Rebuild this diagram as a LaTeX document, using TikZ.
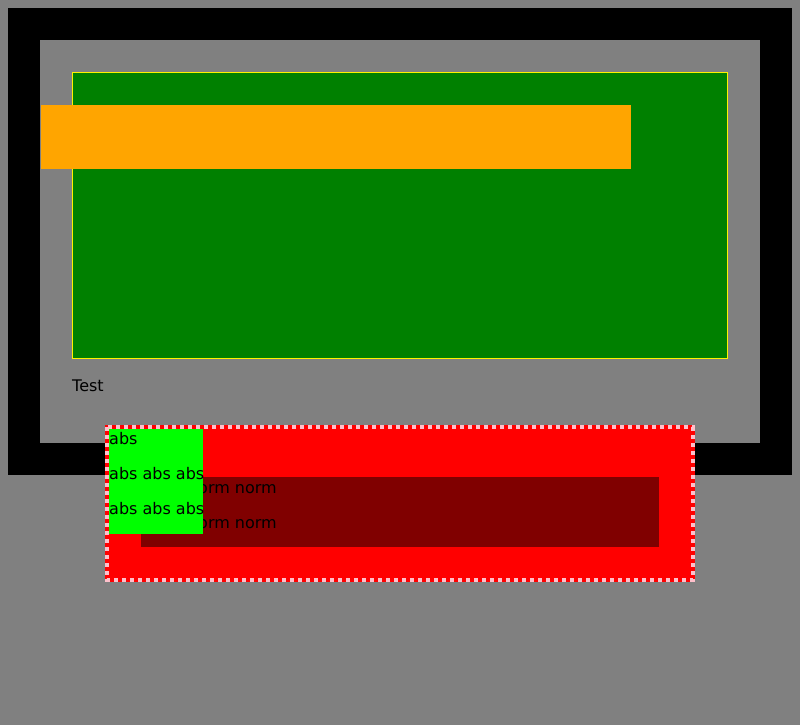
\documentclass[tikz,border=0pt]{standalone}
\usepackage{fontspec}
\setmainfont{DejaVu Sans}
\definecolor{PageGray}{HTML}{808080}
\definecolor{BoxGreen}{HTML}{008000}
\definecolor{BoxOrange}{HTML}{FFA500}
\definecolor{DotPink}{HTML}{FFC0CB}
\definecolor{DeepRed}{HTML}{800000}
\definecolor{LimeGreen}{HTML}{00FF00}

\begin{document}
\begin{tikzpicture}[x=1pt, y=-1pt,
  txt/.style={font=\fontsize{16}{19}\selectfont, anchor=base west, inner sep=0pt, text=black},
]
  % Page
  \fill[PageGray] (0,0) rectangle (800,725);
  \useasboundingbox (0,0) rectangle (800,725);

  % Black frame
  \fill[black] (8,8) rectangle (792,475);
  \fill[PageGray] (40,40) rectangle (760,443);

  % Green box with yellow edge
  \fill[BoxGreen] (72,72) rectangle (728,359);
  \draw[yellow, line width=1pt] (72.5,72.5) rectangle (727.5,358.5);

  % Orange bar
  \fill[BoxOrange] (41,105) rectangle (631,169);

  \node[txt] (test) at (72,391) {Test};

  % Red box, dotted pink edge
  \fill[red] (105,425) rectangle (695,582);
  \draw[DotPink, line width=4pt, dash pattern=on 4pt off 4pt] (107,427) rectangle (692.5,580);

  % Dark red box and its text
  \fill[DeepRed] (141,477) rectangle (659,547);
  \node[txt] (normA) at (141,493) {norm norm norm};
  \node[txt] (normB) at (141,528) {norm norm norm};

  % Lime box and its text
  \fill[LimeGreen] (109,429) rectangle (203,534);
  \node[txt] (absA) at (109,444) {abs};
  \node[txt] (absB) at (109,479) {abs abs abs};
  \node[txt] (absC) at (109,514) {abs abs abs};
\end{tikzpicture}
\end{document}
